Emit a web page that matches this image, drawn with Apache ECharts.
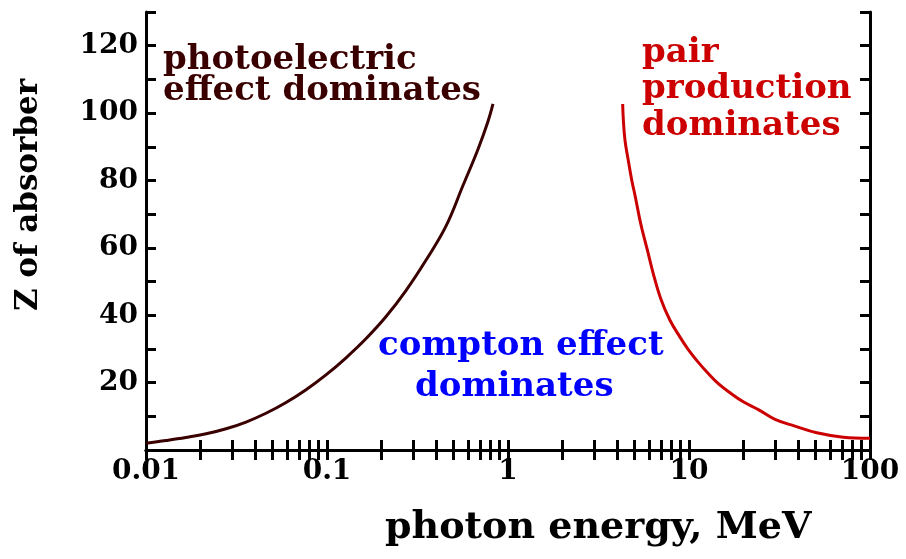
<!DOCTYPE html>
<html>
<head>
<meta charset="utf-8">
<script src="https://cdn.jsdelivr.net/npm/echarts@6/dist/echarts.min.js"></script>
<style>
  html, body { margin: 0; padding: 0; background: #fff; }
  #chart { width: 906px; height: 559px; }
</style>
</head>
<body>
<div id="chart"></div>
<script>
// photoelectric / compton boundary (MeV, Z)
const photoEnergy = [0.01, 0.0129, 0.0166, 0.0215, 0.0277, 0.0357, 0.046, 0.0594, 0.0766, 0.0987, 0.127, 0.164, 0.212, 0.273, 0.352, 0.455, 0.564, 0.682, 0.775, 0.826];
const photoZ      = [2.0, 2.8, 3.7, 4.8, 6.3, 8.3, 10.9, 14.1, 17.9, 22.3, 27.3, 33.0, 39.6, 47.3, 56.3, 66.5, 78.5, 89.2, 97.5, 102.7];

// compton / pair production boundary
const pairEnergy = [4.30, 4.34, 4.43, 4.62, 4.83, 5.03, 5.41, 5.89, 6.35, 6.98, 7.85, 8.92, 9.91, 11.26, 12.78, 14.52, 16.85, 19.95, 24.15, 29.87, 38.5, 50.8, 71.2, 100];
const pairZ      = [102.7, 97.8, 91.9, 85.9, 80.0, 75.6, 67.2, 59.3, 52.3, 44.9, 38.5, 33.5, 29.8, 26.0, 22.7, 19.7, 17.0, 14.3, 12.0, 9.1, 7.1, 5.1, 3.8, 3.5];

// tick values
const xLabelValues = [0.01, 0.1, 1, 10, 100];
const xTickValues = [];
[0.01, 0.1, 1, 10].forEach(d => { for (let k = 1; k <= 9; k++) xTickValues.push(+(d * k).toPrecision(3)); });
xTickValues.push(100);

const FONT = '"DejaVu Serif", serif';
const frameLine = { show: true, lineStyle: { color: '#000', width: 3 } };
const inTick = { show: true, inside: true, length: 10, lineStyle: { color: '#000', width: 3 } };

function label(text, x, y, color, size) {
    return { type: 'text', x: x, y: y, style: { text: text, font: 'bold ' + size + 'px ' + FONT, fill: color, verticalAlign: 'middle' } };
}

const chart = echarts.init(document.getElementById('chart'));

const option = {
    animation: false,
    backgroundColor: '#fff',
    grid: { left: 146, right: 36, top: 12, bottom: 109 },
    xAxis: [
        {
            type: 'log', logBase: 10, min: 0.01, max: 100,
            axisLine: frameLine,
            axisTick: Object.assign({ customValues: xTickValues }, inTick),
            axisLabel: {
                customValues: xLabelValues,
                margin: 8,
                color: '#000',
                fontFamily: FONT, fontWeight: 'bold', fontSize: 28,
                formatter: v => String(v)
            },
            splitLine: { show: false }
        },
        {
            type: 'log', logBase: 10, min: 0.01, max: 100, position: 'top',
            axisLine: frameLine,
            axisTick: Object.assign({ customValues: xTickValues }, inTick),
            axisLabel: { show: false },
            splitLine: { show: false }
        }
    ],
    yAxis: [
        {
            type: 'value', min: 0, max: 130, interval: 10,
            axisLine: frameLine,
            axisTick: inTick,
            axisLabel: {
                margin: 8,
                color: '#000',
                fontFamily: FONT, fontWeight: 'bold', fontSize: 28,
                formatter: v => (v > 0 && v < 130 && v % 20 === 0) ? String(v) : ''
            },
            splitLine: { show: false }
        },
        {
            type: 'value', min: 0, max: 130, interval: 10, position: 'right',
            axisLine: frameLine,
            axisTick: inTick,
            axisLabel: { show: false },
            splitLine: { show: false }
        }
    ],
    series: [
        {
            name: 'photoelectric',
            type: 'line',
            smooth: 0.4,
            showSymbol: false,
            lineStyle: { color: '#3a0000', width: 3 },
            data: photoEnergy.map((e, i) => [e, photoZ[i]])
        },
        {
            name: 'pair',
            type: 'line',
            smooth: 0.4,
            showSymbol: false,
            lineStyle: { color: '#cc0000', width: 3 },
            data: pairEnergy.map((e, i) => [e, pairZ[i]])
        }
    ],
    graphic: [
        label('photoelectric', 163, 60, '#3a0000', 34),
        label('effect dominates', 163, 91, '#3a0000', 34),
        label('pair', 642, 53, '#cc0000', 34),
        label('production', 642, 89, '#cc0000', 34),
        label('dominates', 642, 126, '#cc0000', 34),
        label('compton effect', 378, 346, '#0000ff', 34),
        label('dominates', 415, 387, '#0000ff', 34),
        label('photon energy, MeV', 385, 528, '#000', 38),
        { type: 'text', x: 29, y: 195, rotation: Math.PI / 2, style: { text: 'Z of absorber', font: 'bold 31px ' + FONT, fill: '#000', align: 'center', verticalAlign: 'middle' } }
    ]
};

chart.setOption(option);
</script>
</body>
</html>
